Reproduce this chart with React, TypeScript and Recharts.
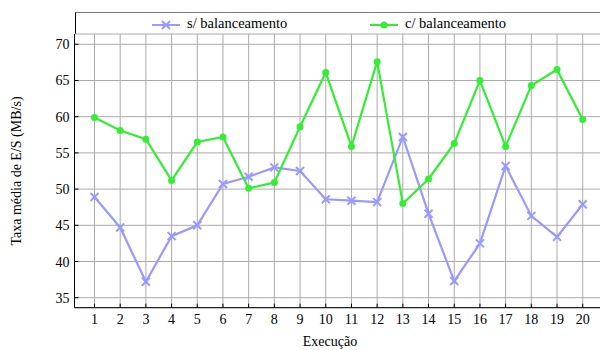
import React from 'react'
import { LineChart, Line, XAxis, YAxis, CartesianGrid } from 'recharts'

const execucoes = [1, 2, 3, 4, 5, 6, 7, 8, 9, 10, 11, 12, 13, 14, 15, 16, 17, 18, 19, 20]
const semBalanceamento = [48.9, 44.7, 37.2, 43.5, 45.0, 50.7, 51.7, 53.0, 52.5, 48.6, 48.4, 48.2, 57.2, 46.6, 37.3, 42.5, 53.2, 46.3, 43.4, 47.9]
const comBalanceamento = [59.9, 58.1, 56.9, 51.2, 56.5, 57.2, 50.1, 50.9, 58.6, 66.1, 55.9, 67.6, 48.0, 51.4, 56.3, 65.0, 55.9, 64.3, 66.5, 59.6]
const yTicks = [35, 40, 45, 50, 55, 60, 65, 70]

const seriesNames = ['s/ balanceamento', 'c/ balanceamento']
const blue = '#9999ff'
const green = '#33ee33'
const font = '"Liberation Serif", "DejaVu Serif", serif'

const data = execucoes.map((x, i) => ({ x, s: semBalanceamento[i], c: comBalanceamento[i] }))

const PLOT_TOP = 34
const PLOT_BOTTOM = 307.7
const PLOT_LEFT = 74.5
const PLOT_RIGHT = 602.7
const W = 620
const H = 350

const CrossDot = (props: any) => {
    const { cx, cy, index } = props
    const r = 4
    return (
        <g key={`x-${index}`} stroke={blue} strokeWidth={2}>
            <line x1={cx - r} y1={cy - r} x2={cx + r} y2={cy + r} />
            <line x1={cx - r} y1={cy + r} x2={cx + r} y2={cy - r} />
        </g>
    )
}

const renderXTick = (props: any) => {
    const { x, payload, index } = props
    return (
        <g key={`xt-${index}`}>
            <line x1={x} x2={x} y1={PLOT_BOTTOM} y2={PLOT_BOTTOM - 4} stroke="#000" />
            <text x={x} y={PLOT_BOTTOM + 16} textAnchor="middle" fontSize={14} fontFamily={font} fill="#000">{payload.value}</text>
        </g>
    )
}

const renderYTick = (props: any) => {
    const { y, payload, index } = props
    return (
        <g key={`yt-${index}`}>
            <line x1={PLOT_LEFT} x2={PLOT_LEFT + 4} y1={y} y2={y} stroke="#000" />
            <text x={PLOT_LEFT - 5} y={y + 5} textAnchor="end" fontSize={14} fontFamily={font} fill="#000">{payload.value}</text>
        </g>
    )
}

const LegendMark = ({ kind }: { kind: 'x' | 'o' }) => (
    <svg width={28} height={12} style={{ verticalAlign: 'middle' }}>
        <line x1={0} x2={28} y1={6} y2={6} stroke={kind === 'x' ? blue : green} strokeWidth={2} />
        {kind === 'x' ? (
            <g stroke={blue} strokeWidth={2}>
                <line x1={10} y1={2} x2={18} y2={10} />
                <line x1={10} y1={10} x2={18} y2={2} />
            </g>
        ) : (
            <circle cx={14} cy={6} r={3.5} fill={green} />
        )}
    </svg>
)

const textStyle = { fontFamily: font, fontSize: 14.5, color: '#000' }

export default function App() {
    return (
        <div style={{ position: 'fixed', left: 0, top: 0, width: 600, height: H, overflow: 'hidden', background: '#fff', fontFamily: font }}>
            <div style={{ position: 'absolute', left: PLOT_LEFT, top: 12, width: 600, height: PLOT_TOP - 12, borderTop: '1px solid #777', borderLeft: '1px solid #000', boxSizing: 'border-box' }} />
            <div style={{ position: 'absolute', left: 152, top: 14, lineHeight: '18px', whiteSpace: 'nowrap', ...textStyle }}>
                <LegendMark kind="x" /><span style={{ marginLeft: 7, ...textStyle }}>{seriesNames[0]}</span>
            </div>
            <div style={{ position: 'absolute', left: 370, top: 14, lineHeight: '18px', whiteSpace: 'nowrap', ...textStyle }}>
                <LegendMark kind="o" /><span style={{ marginLeft: 7, ...textStyle }}>{seriesNames[1]}</span>
            </div>
            <div style={{ position: 'absolute', left: 0, top: 0 }}>
                <LineChart width={W} height={H} data={data} margin={{ top: PLOT_TOP, right: W - PLOT_RIGHT, bottom: 0, left: 0 }}>
                    <CartesianGrid stroke="#aaaaaa" />
                    <XAxis dataKey="x" type="number" domain={[0.222, 20.778]} ticks={execucoes} allowDataOverflow interval={0}
                        height={H - PLOT_BOTTOM} tickSize={0} tickMargin={0} tickLine={false} tick={renderXTick} axisLine={{ stroke: '#000' }} />
                    <XAxis xAxisId="top" orientation="top" dataKey="x" type="number" domain={[0.222, 20.778]} height={0} tick={false} tickLine={false} axisLine={{ stroke: '#000' }} />
                    <YAxis type="number" domain={[33.62, 71.42]} ticks={yTicks} allowDataOverflow interval={0}
                        width={PLOT_LEFT} tickSize={0} tickMargin={0} tickLine={false} tick={renderYTick} axisLine={{ stroke: '#000' }} />
                    <Line dataKey="s" name={seriesNames[0]} stroke={blue} strokeWidth={2.2} dot={<CrossDot />} isAnimationActive={false} />
                    <Line dataKey="c" name={seriesNames[1]} stroke={green} strokeWidth={2.2} dot={{ r: 3.5, fill: green, stroke: green, strokeWidth: 0 }} isAnimationActive={false} />
                </LineChart>
            </div>
            <div style={{ position: 'absolute', left: 330, top: 334, transform: 'translateX(-50%)', fontFamily: font, fontSize: 14, whiteSpace: 'nowrap' }}>Execução</div>
            <div style={{ position: 'absolute', left: 17, top: 171, transform: 'translate(-50%, -50%) rotate(-90deg)', fontFamily: font, fontSize: 14, whiteSpace: 'nowrap' }}>Taxa média de E/S (MB/s)</div>
        </div>
    )
}
